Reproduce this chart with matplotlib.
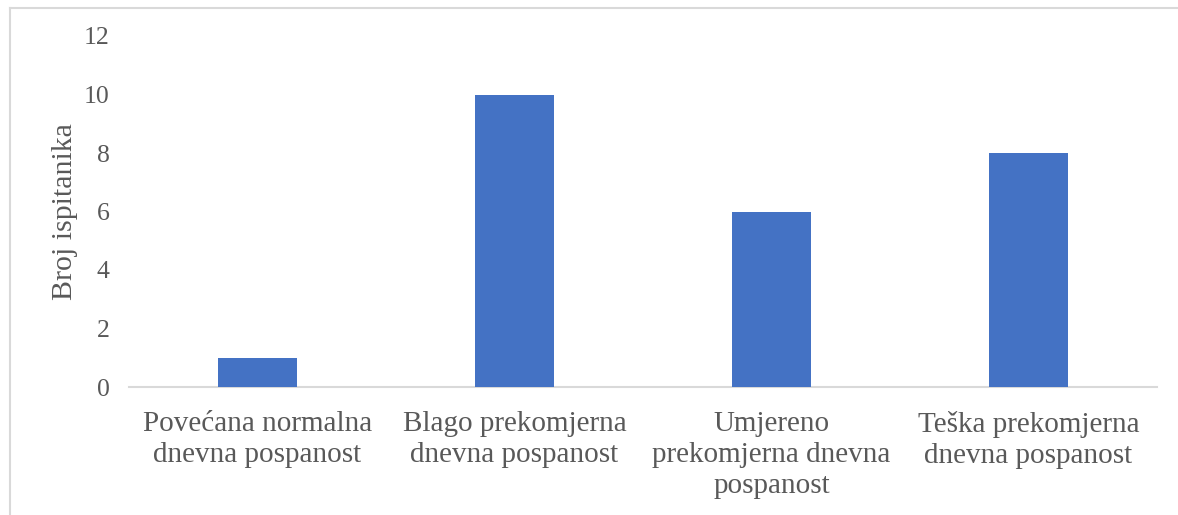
import matplotlib.pyplot as plt
from matplotlib.lines import Line2D

categories = ["Povećana normalna\ndnevna pospanost",
              "Blago prekomjerna\ndnevna pospanost",
              "Umjereno\nprekomjerna dnevna\npospanost",
              "Teška prekomjerna\ndnevna pospanost"]
values = [1, 10, 6, 8]
yticks = [0, 2, 4, 6, 8, 10, 12]

plt.rcParams['font.family'] = ['Liberation Serif', 'DejaVu Serif']
text_color = '#595959'
grey = '#D9D9D9'

fig = plt.figure(figsize=(11.78, 5.15), dpi=100)
ax = fig.add_axes([129 / 1178, 1 - 387 / 515, 1028 / 1178, 351 / 515])

x = range(len(categories))
ax.bar(x, values, width=0.31, color='#4472C4', zorder=3)

ax.set_xlim(-0.5, len(categories) - 0.5)
ax.set_ylim(0, 12)
ax.set_yticks(yticks)
ax.set_yticklabels([str(t) for t in yticks])
ax.set_xticks(list(x))
ax.set_xticklabels(categories, fontsize=21, color=text_color, linespacing=1.26)
ax.tick_params(axis='y', length=0, pad=14, labelsize=18.5, labelcolor=text_color)
ax.tick_params(axis='x', length=0, pad=17)

for side in ['top', 'right', 'left']:
    ax.spines[side].set_visible(False)
ax.spines['bottom'].set_color(grey)
ax.spines['bottom'].set_linewidth(1.5)

ax.set_ylabel("Broj ispitanika", fontsize=21.5, color=text_color, labelpad=4)

# chart frame (left and top edges)
fig.add_artist(Line2D([9.5 / 1178, 9.5 / 1178], [0, 1 - 7.5 / 515],
                      transform=fig.transFigure, color=grey, lw=1.5))
fig.add_artist(Line2D([9.5 / 1178, 1], [1 - 7.5 / 515, 1 - 7.5 / 515],
                      transform=fig.transFigure, color=grey, lw=1.5))

fig.savefig("out.png", dpi=100)
